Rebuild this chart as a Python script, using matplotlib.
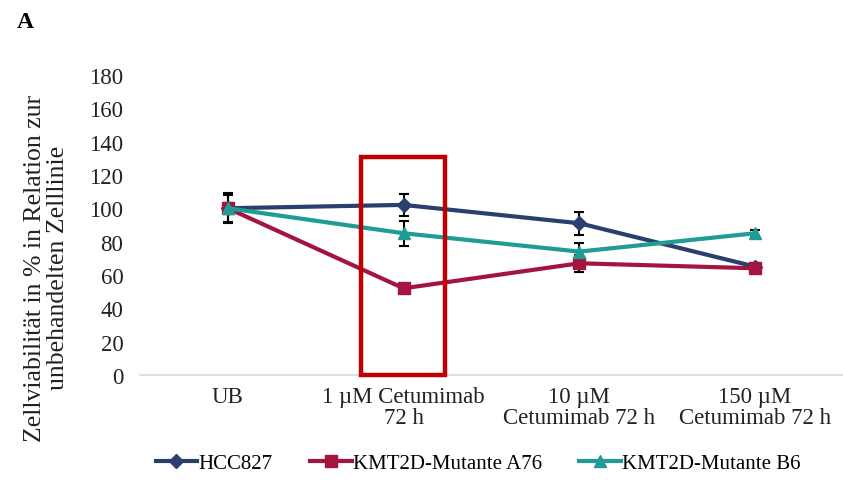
import matplotlib
matplotlib.use("Agg")
import matplotlib.pyplot as plt
from matplotlib.patches import Rectangle
from matplotlib.lines import Line2D

plt.rcParams['font.family'] = ['Liberation Serif', 'DejaVu Serif']

categories = ["UB", "1 \u00b5M Cetumimab\n72 h", "10 \u00b5M\nCetumimab 72 h", "150 \u00b5M\nCetumimab 72 h"]
hcc827 = [100, 102, 91, 65]
hcc827_err = [9, 6.5, 7, 2]
a76 = [100, 52, 67, 64]
a76_err = [8, 2, 5, 2]
b6 = [100, 85, 74, 85]
b6_err = [3, 7.5, 5, 2]
series_names = ["HCC827", "KMT2D-Mutante A76", "KMT2D-Mutante B6"]
yticks = list(range(0, 181, 20))

fig = plt.figure(figsize=(8.43, 4.89), dpi=100)
ax = fig.add_axes([0.166, 0.231, 0.834, 0.614])
x = list(range(len(categories)))

styles = [
    (hcc827, hcc827_err, "#2B3F6E", "D", 7),
    (a76, a76_err, "#A3153F", "s", 8),
    (b6, b6_err, "#1E9C95", "^", 9),
]
handles = []
for (vals, err, col, mk, ms), name in zip(styles, series_names):
    ax.errorbar(x, vals, yerr=err, color=col, lw=3, marker=mk, ms=ms,
                mec=col, mfc=col, ecolor="black", elinewidth=1.5, capsize=3.5,
                capthick=1.5, zorder=3)
    handles.append(Line2D([], [], color=col, lw=3, marker=mk, ms=ms,
                          mec=col, mfc=col, label=name))

ax.add_patch(Rectangle((0.76, 0), 0.475, 131, fill=False, edgecolor="#C00000",
                       lw=3.2, zorder=5, clip_on=False))

ax.set_xlim(-0.5, 3.5)
ax.set_ylim(0, 180)
ax.set_yticks(yticks)
ax.set_xticks(x)
ax.set_xticklabels(categories, fontsize=16.5, color="#222222", linespacing=1.0)
ax.tick_params(axis="y", labelsize=16.5, length=0, pad=12, colors="#222222")
ax.tick_params(axis="x", length=0, pad=8)
for s in ["top", "right", "left"]:
    ax.spines[s].set_visible(False)
ax.spines["bottom"].set_color("#D9D9D9")
ax.spines["bottom"].set_linewidth(1.2)

fig.text(0.055, 0.452, "Zellviabilität in % in Relation zur\nunbehandelten Zelllinie",
         rotation=90, ha="center", va="center", fontsize=18.5, color="#222222",
         linespacing=1.1)
fig.text(0.02, 0.955, "A", fontsize=17, fontweight="bold", ha="left", va="center")

fig.legend(handles=handles, loc="center", bbox_to_anchor=(0.567, 0.05), ncol=3,
           frameon=False, fontsize=15, handlelength=2.0, columnspacing=1.8,
           handletextpad=0.05)

fig.savefig("out.png", dpi=100)
